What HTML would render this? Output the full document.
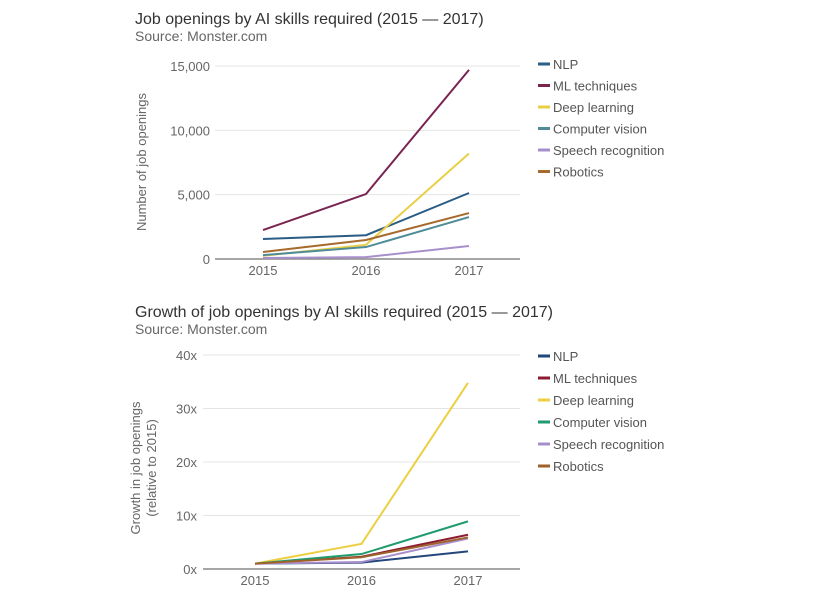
<!DOCTYPE html>
<html><head><meta charset="utf-8"><style>
body{margin:0;background:#fff;width:818px;height:606px;overflow:hidden;font-family:"Liberation Sans",sans-serif}
svg{display:block}
</style></head><body>
<svg id="s" width="818" height="606" xmlns="http://www.w3.org/2000/svg" font-family="Liberation Sans, sans-serif">
<text x="135" y="24" font-size="16" fill="#333">Job openings by AI skills required (2015 — 2017)</text>
<text x="135" y="41" font-size="14" fill="#666">Source: Monster.com</text>
<text x="135" y="317" font-size="16" fill="#333">Growth of job openings by AI skills required (2015 — 2017)</text>
<text x="135" y="334" font-size="14" fill="#666">Source: Monster.com</text>
<text transform="translate(146,162) rotate(-90)" text-anchor="middle" font-size="13" fill="#666">Number of job openings</text>
<text transform="translate(140,468) rotate(-90)" text-anchor="middle" font-size="13" fill="#666">Growth in job openings</text>
<text transform="translate(156,468) rotate(-90)" text-anchor="middle" font-size="13" fill="#666">(relative to 2015)</text>
<g id="c1"></g><g id="c2"></g>
</svg>
<script>
const years=["2015","2016","2017"];
const names=["NLP","ML techniques","Deep learning","Computer vision","Speech recognition","Robotics"];
const nlp1=[1550,1850,5130];
const ml1=[2250,5050,14700];
const deep1=[250,1100,8200];
const cv1=[300,930,3260];
const speech1=[80,150,1010];
const rob1=[540,1480,3570];
const ticks1=[0,5000,10000,15000];
const tickLabels1=["0","5,000","10,000","15,000"];
const nlp2=[1,1.2,3.3];
const ml2=[1,2.3,6.4];
const deep2=[1,4.7,34.8];
const cv2=[1,2.8,8.9];
const speech2=[1,1.3,5.7];
const rob2=[1,2.2,5.9];
const ticks2=[0,10,20,30,40];
const tickLabels2=["0x","10x","20x","30x","40x"];
const colors1=["#2a5c86","#7a2452","#e9cf45","#4f8c98","#a88fcc","#a66a2c"];
const colors2=["#23477a","#8c1c30","#eccf42","#1f9b6e","#a88fcc","#a0622c"];
const NS="http://www.w3.org/2000/svg";
function el(p,t,a){const e=document.createElementNS(NS,t);for(const k in a)e.setAttribute(k,a[k]);p.appendChild(e);return e;}
function chart(g,cfg){
  const y=v=>cfg.y0-(v-cfg.min)/(cfg.max-cfg.min)*(cfg.y0-cfg.y1);
  const x=i=>cfg.xs[0]+i*(cfg.xs[1]-cfg.xs[0]);
  cfg.ticks.forEach((t,i)=>{
    const ln=el(g,"line",{x1:cfg.gx0,x2:520,y1:y(t),y2:y(t),stroke:i==0?"#888":"#e4e4e4","stroke-width":i==0?1.5:1});
    
    
    const tx=el(g,"text",{x:cfg.lx,y:y(t)+5,"text-anchor":"end","font-size":13,fill:"#666"});
    tx.textContent=cfg.labels[i];
    
    
  });
  years.forEach((yr,i)=>{
    const tx=el(g,"text",{x:x(i),y:cfg.y0+16,"text-anchor":"middle","font-size":13,fill:"#666"});
    tx.textContent=yr;
    
    
  });
  cfg.series.forEach((s,k)=>{
    const p=el(g,"polyline",{points:s.map((v,i)=>x(i)+","+y(v)).join(" "),fill:"none",stroke:cfg.colors[k],"stroke-width":2});
    
    
    const ly=cfg.ly+k*cfg.ld;
    const sw=el(g,"line",{x1:538,x2:550,y1:ly,y2:ly,stroke:cfg.colors[k],"stroke-width":3});
    
    
    const t=el(g,"text",{x:553,y:ly+5,"font-size":13,fill:"#555"});
    t.textContent=names[k];
    
    
  });
}
chart(document.getElementById("c1"),{y0:259,y1:66,min:0,max:15000,xs:[263,366],gx0:215,lx:210,ticks:ticks1,labels:tickLabels1,series:[nlp1,ml1,deep1,cv1,speech1,rob1],colors:colors1,ly:64,ld:21.5});
chart(document.getElementById("c2"),{y0:569,y1:355,min:0,max:40,xs:[255,361.5],gx0:203,lx:197,ticks:ticks2,labels:tickLabels2,series:[nlp2,ml2,deep2,cv2,speech2,rob2],colors:colors2,ly:356,ld:22});
</script>
</body></html>
